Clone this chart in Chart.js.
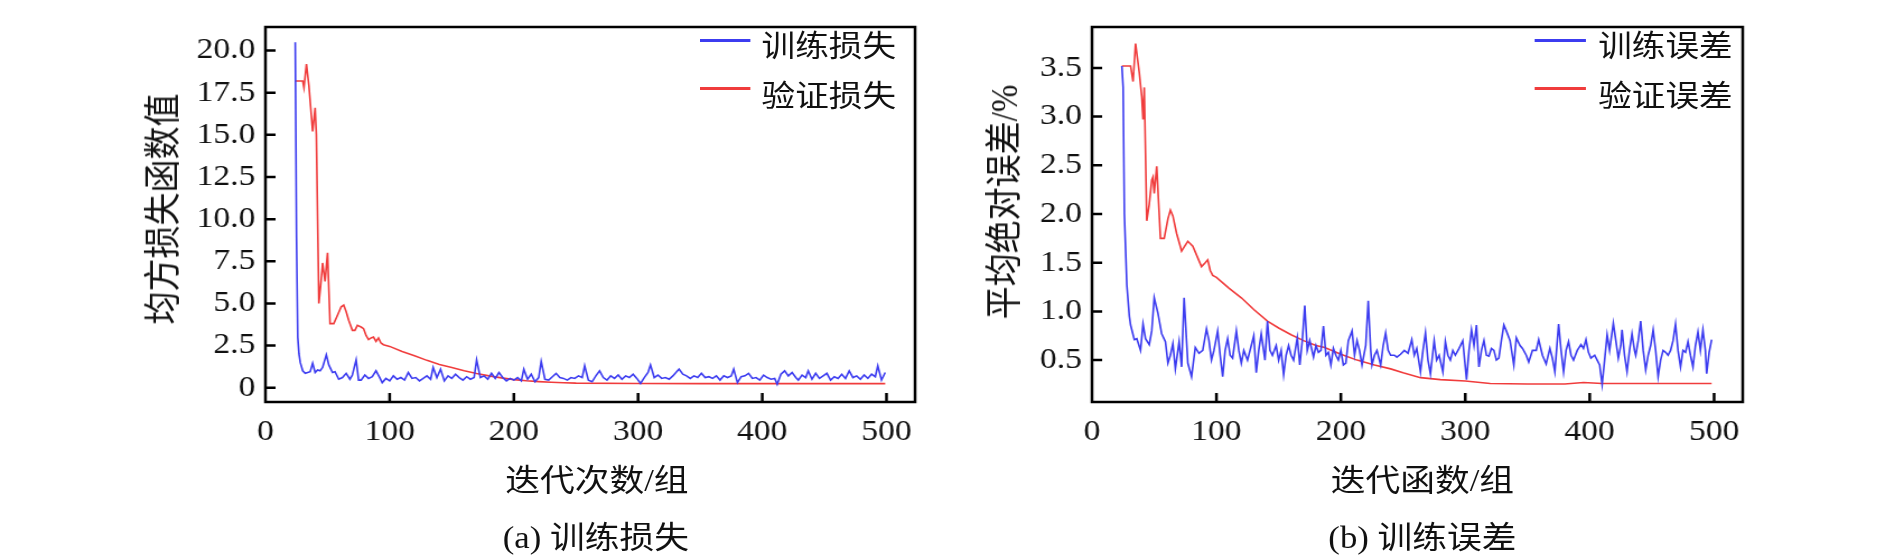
<!DOCTYPE html>
<html>
<head>
<meta charset="utf-8">
<script src="https://cdn.jsdelivr.net/npm/chart.js@4/dist/chart.umd.min.js"></script>
<style>
  html, body { margin: 0; padding: 0; background: #fff; overflow: hidden; }
  #fig { position: absolute; left: 0; top: 0; width: 1688px; height: 555px;
         transform: scaleX(1.12); transform-origin: 0 0; }
  canvas { position: absolute; top: 0; }
  .txt { position: absolute; white-space: nowrap; color: #111;
         font-family: "Liberation Serif", "Noto Sans CJK SC", serif;
         transform: translate(-50%, -50%); line-height: 1; }
  .ytitle { transform: translate(-50%, -50%) rotate(-90deg); font-size: 33px; }
  .xtitle, .cap { font-size: 31px; }
  .leg { position: absolute; height: 3px; }
  .legtxt { position: absolute; font-size: 30px; line-height: 1; color: #111;
            font-family: "Noto Sans CJK SC", serif; transform: translateY(-50%); }
</style>
</head>
<body>
<div id="fig">
  <canvas id="lossChart" width="844" height="555" style="left:0;width:844px;height:555px"></canvas>
  <canvas id="errChart" width="844" height="555" style="left:844px;width:844px;height:555px"></canvas>

  <div class="txt ytitle" style="left:147px;top:209px">均方损失函数值</div>
  <div class="txt xtitle" style="left:533px;top:480px">迭代次数/组</div>
  <div class="txt cap" style="left:532px;top:537px">(a) 训练损失</div>

  <div class="txt ytitle" style="left:898px;top:202px">平均绝对误差/%</div>
  <div class="txt xtitle" style="left:1270px;top:480px">迭代函数/组</div>
  <div class="txt cap" style="left:1270px;top:537px">(b) 训练误差</div>

  <div class="leg" style="left:625px;top:39px;width:45px;background:#3c3cf0"></div>
  <div class="legtxt" style="left:680px;top:43px">训练损失</div>
  <div class="leg" style="left:625px;top:87px;width:45px;background:#f03c3c"></div>
  <div class="legtxt" style="left:680px;top:93px">验证损失</div>

  <div class="leg" style="left:1370px;top:39px;width:46px;background:#3c3cf0"></div>
  <div class="legtxt" style="left:1427px;top:43px">训练误差</div>
  <div class="leg" style="left:1370px;top:87px;width:46px;background:#f03c3c"></div>
  <div class="legtxt" style="left:1427px;top:93px">验证误差</div>
</div>
<script>
// x ticks shared by both panels
var xTicks = [0, 100, 200, 300, 400, 500];
var xTickLabels = ["0", "100", "200", "300", "400", "500"];

// (a) loss panel
var lossTicks = [0, 2.5, 5, 7.5, 10, 12.5, 15, 17.5, 20];
var lossTickLabels = ["0", "2.5", "5.0", "7.5", "10.0", "12.5", "15.0", "17.5", "20.0"];

var lossTrainX = [24,25,26,27,28,30,32,34,36,38,40,42,44,46,49,51,54,56,59,62,65,68,70,73,75,77,80,83,86,89,92,94,97,
  100,103,106,109,112,115,118,121,124,127,130,133,135,138,141,144,147,150,153,156,159,162,165,168,170,173,176,179,182,185,188,191,194,197,
  200,203,206,208,211,214,217,220,222,225,228,231,234,237,240,243,246,249,252,255,257,260,263,266,269,272,275,278,281,284,287,290,293,296,299,
  302,305,308,310,313,316,319,322,325,328,331,333,336,339,342,345,348,351,354,357,360,363,366,369,372,375,377,380,383,386,389,392,395,398,
  401,404,407,410,412,415,418,421,424,427,429,432,435,437,440,443,446,449,452,455,458,461,464,467,470,473,476,479,482,485,488,491,493,496,499];
var lossTrain = [20.5,9.0,3.0,2.0,1.5,1.0,0.85,0.9,0.95,1.45,0.9,1.05,1.0,1.2,1.95,1.35,0.9,0.95,0.5,0.6,0.85,0.5,0.75,1.65,0.45,0.45,0.75,0.55,0.65,1.0,0.6,0.3,0.55,
  0.4,0.7,0.5,0.6,0.45,0.9,0.55,0.6,0.4,0.55,0.7,0.5,1.2,0.6,1.1,0.4,0.7,0.55,0.8,0.6,0.45,0.65,0.5,0.6,1.65,0.6,0.7,0.5,0.85,0.55,0.9,0.6,0.4,0.55,
  0.45,0.6,0.4,1.1,0.5,0.8,0.35,0.6,1.55,0.5,0.45,0.65,0.85,0.6,0.55,0.45,0.6,0.55,0.7,0.6,1.3,0.45,0.35,0.7,1.0,0.6,0.45,0.7,0.55,0.75,0.5,0.7,0.6,0.8,0.55,
  0.25,0.6,0.9,1.35,0.6,0.75,0.55,0.6,0.5,0.7,0.95,1.1,0.8,0.7,0.55,0.7,0.6,0.85,0.6,0.65,0.55,0.7,0.45,0.7,0.6,0.7,1.1,0.3,0.65,0.7,0.85,0.55,0.6,0.45,
  0.75,0.6,0.5,0.55,0.2,0.8,1.0,0.7,0.9,0.6,0.45,0.75,0.6,1.0,0.5,0.85,0.55,0.7,0.85,0.45,0.65,0.55,0.8,0.55,1.0,0.6,0.7,0.5,0.75,0.55,0.8,0.65,1.3,0.45,0.9];

var lossValX = [24,30,31,33,35,36,38,40,41,43,45,46,48,50,52,55,58,61,63,65,67,70,72,74,77,79,81,83,85,87,89,91,93,95,
  100,110,120,130,140,150,160,170,180,190,200,210,220,230,240,250,300,350,400,450,499];
var lossVal = [18.2,18.2,17.8,19.2,17.9,17.0,15.2,16.6,15.0,5.0,6.5,7.4,6.3,8.0,3.8,3.8,4.3,4.8,4.9,4.5,4.0,3.4,3.4,3.7,3.6,3.5,3.1,2.85,2.95,3.0,2.75,2.95,2.65,2.55,
  2.45,2.15,1.9,1.62,1.38,1.2,1.0,0.84,0.7,0.58,0.48,0.41,0.36,0.32,0.29,0.27,0.25,0.24,0.24,0.24,0.24];

// (b) error panel
var errTicks = [0.5, 1.0, 1.5, 2.0, 2.5, 3.0, 3.5];
var errTickLabels = ["0.5", "1.0", "1.5", "2.0", "2.5", "3.0", "3.5"];

var errTrainX = [24,25,26,28,30,31,34,36,39,41,43,46,48,50,53,56,59,61,63,65,67,70,72,74,77,80,83,86,89,92,94,96,98,
  101,103,105,107,109,111,113,116,118,120,122,125,128,130,132,134,136,139,141,143,145,148,150,152,154,156,158,160,162,165,167,169,
  171,173,175,178,180,182,184,186,188,190,192,194,196,198,200,202,204,206,209,211,213,215,217,220,222,224,225,227,229,231,232,234,236,238,
  240,243,245,248,251,254,257,259,261,264,266,268,270,272,275,277,279,282,284,286,288,290,292,295,298,301,303,305,307,309,311,313,315,317,
  319,321,323,325,327,329,331,333,336,339,341,344,346,349,351,354,357,359,362,365,368,370,372,375,377,379,381,383,385,387,390,393,395,397,
  399,401,404,406,408,410,412,414,416,419,421,423,425,426,428,430,432,434,436,437,439,441,443,445,447,449,451,453,455,457,459,461,463,465,
  467,469,471,473,475,477,479,481,483,485,487,489,491,493,494,496,498];
var errTrain = [3.52,3.3,2.0,1.27,0.95,0.86,0.71,0.72,0.6,0.87,0.72,0.66,0.8,1.14,0.98,0.77,0.69,0.47,0.55,0.67,0.41,0.69,0.43,1.14,0.47,0.33,0.63,0.57,0.6,0.82,0.7,0.5,0.6,
  0.8,0.55,0.33,0.6,0.72,0.55,0.52,0.8,0.6,0.47,0.6,0.5,0.65,0.75,0.37,0.6,0.77,0.5,0.9,0.6,0.55,0.65,0.5,0.6,0.35,0.55,0.65,0.55,0.5,0.73,0.45,0.7,
  1.06,0.6,0.7,0.53,0.65,0.58,0.6,0.85,0.55,0.58,0.45,0.62,0.55,0.5,0.6,0.45,0.47,0.7,0.8,0.55,0.7,0.6,0.45,0.65,1.11,0.6,0.45,0.55,0.6,0.5,0.45,0.65,0.78,0.6,
  0.55,0.55,0.53,0.56,0.6,0.57,0.71,0.55,0.62,0.38,0.6,0.78,0.5,0.36,0.7,0.5,0.55,0.38,0.69,0.55,0.5,0.6,0.55,0.62,0.7,0.3,0.6,0.81,0.65,0.86,0.43,0.6,0.7,0.55,
  0.54,0.62,0.6,0.5,0.52,0.7,0.86,0.8,0.7,0.45,0.73,0.65,0.62,0.55,0.48,0.6,0.6,0.71,0.55,0.46,0.62,0.52,0.38,0.87,0.6,0.38,0.6,0.69,0.55,0.5,0.6,0.66,0.62,0.71,
  0.58,0.52,0.55,0.5,0.45,0.25,0.5,0.76,0.6,0.88,0.7,0.52,0.65,0.81,0.55,0.38,0.6,0.77,0.6,0.55,0.7,0.9,0.6,0.4,0.55,0.65,0.81,0.6,0.33,0.5,0.6,0.58,0.55,0.6,
  0.7,0.87,0.6,0.43,0.6,0.58,0.69,0.55,0.43,0.65,0.79,0.6,0.81,0.6,0.36,0.58,0.71];

var errValX = [24,31,33,35,38,40,41,42,44,46,48,49,50,52,55,58,61,63,65,68,72,75,77,81,85,88,91,93,95,97,
  100,110,120,130,141,150,160,170,180,187,200,213,227,240,250,264,280,300,320,350,380,395,410,450,498];
var errVal = [3.52,3.52,3.36,3.75,3.45,3.2,2.97,3.3,1.93,2.1,2.35,2.38,2.21,2.49,1.75,1.75,1.95,2.04,1.98,1.8,1.62,1.68,1.72,1.67,1.55,1.46,1.5,1.53,1.42,1.37,
  1.35,1.24,1.14,1.02,0.9,0.83,0.76,0.7,0.65,0.63,0.56,0.5,0.45,0.41,0.37,0.32,0.3,0.285,0.26,0.255,0.255,0.27,0.26,0.26,0.26];

var blue = "#3c3cf0";
var red = "#f03c3c";
var tickFont = { family: "'Liberation Serif', serif", size: 30 };

function pts(xs, ys) {
  return xs.map(function (v, i) { return { x: v, y: ys[i] }; });
}

// box round the plot area and short ticks pointing inward
var frameTicks = {
  id: "frameTicks",
  afterDraw: function (chart) {
    var ctx = chart.ctx, a = chart.chartArea, x = chart.scales.x, y = chart.scales.y;
    ctx.save();
    ctx.strokeStyle = "#000";
    ctx.lineWidth = 2.5;
    ctx.beginPath();
    x.ticks.forEach(function (t) {
      var px = x.getPixelForValue(t.value);
      if (px > a.left + 3) { ctx.moveTo(px, a.bottom); ctx.lineTo(px, a.bottom - 9); }
    });
    y.ticks.forEach(function (t) {
      var py = y.getPixelForValue(t.value);
      ctx.moveTo(a.left, py); ctx.lineTo(a.left + 9, py);
    });
    ctx.stroke();
    ctx.strokeRect(a.left, a.top, a.right - a.left, a.bottom - a.top);
    ctx.restore();
  }
};

function makeChart(id, series, yMin, yMax, yTicks, yLabels, yWidth, padRight) {
  return new Chart(document.getElementById(id), {
    type: "line",
    data: {
      datasets: series.map(function (s) {
        return { label: s.label, data: s.data, borderColor: s.color, borderWidth: 1.6,
                 pointRadius: 0, tension: 0, fill: false };
      })
    },
    options: {
      responsive: false,
      animation: false,
      layout: { padding: { top: 2, right: padRight, bottom: 0, left: 0 } },
      plugins: { legend: { display: false }, tooltip: { enabled: false } },
      scales: {
        x: {
          type: "linear", min: 0, max: 523,
          grid: { display: false, drawTicks: false },
          border: { display: false },
          afterBuildTicks: function (s) { s.ticks = xTicks.map(function (v) { return { value: v }; }); },
          afterFit: function (s) { s.height = 153; },
          ticks: { autoSkip: false, maxRotation: 0, padding: 12, color: "#111", font: tickFont,
                   callback: function (v, i) { return xTickLabels[i]; } }
        },
        y: {
          min: yMin, max: yMax,
          grid: { display: false, drawTicks: false },
          border: { display: false },
          afterBuildTicks: function (s) { s.ticks = yTicks.map(function (v) { return { value: v }; }); },
          afterFit: function (s) { s.width = yWidth; },
          ticks: { autoSkip: false, padding: 9, color: "#111", font: tickFont,
                   callback: function (v, i) { return yLabels[i]; } }
        }
      }
    },
    plugins: [frameTicks]
  });
}

makeChart("lossChart", [
  { label: "训练损失", data: pts(lossTrainX, lossTrain), color: blue },
  { label: "验证损失", data: pts(lossValX, lossVal), color: red }
], -0.85, 21.4, lossTicks, lossTickLabels, 237, 27);

makeChart("errChart", [
  { label: "训练误差", data: pts(errTrainX, errTrain), color: blue },
  { label: "验证误差", data: pts(errValX, errVal), color: red }
], 0.07, 3.92, errTicks, errTickLabels, 131, 132);
</script>
</body>
</html>
